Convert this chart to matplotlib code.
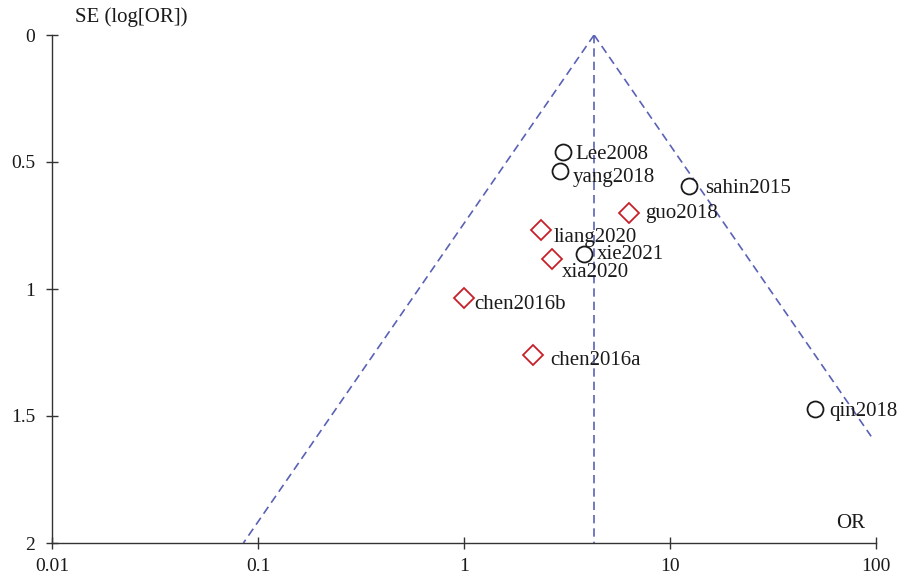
import numpy as np
import matplotlib
matplotlib.use("Agg")
import matplotlib.pyplot as plt

# ---- data ----
studies = ["Lee2008", "yang2018", "sahin2015", "guo2018", "liang2020",
           "xie2021", "xia2020", "chen2016b", "chen2016a", "qin2018"]
odds_ratio = [3.02, 2.92, 12.4, 6.32, 2.37, 3.83, 2.67, 1.00, 2.16, 50.6]
se_log_or = [0.461, 0.535, 0.594, 0.700, 0.768, 0.862, 0.882, 1.035, 1.260, 1.472]
group = ["o", "o", "o", "d", "d", "o", "d", "d", "d", "o"]
pooled_or = 4.28
funnel_se_max_left = 2.0
funnel_se_max_right = 1.58
x_ticks = [0.01, 0.1, 1, 10, 100]
x_tick_labels = ["0.01", "0.1", "1", "10", "100"]
y_ticks = [0, 0.5, 1, 1.5, 2]
y_tick_labels = ["0", "0.5", "1", "1.5", "2"]

# label offsets in pixels (layout)
label_offsets = [(12, -2), (13, -7), (16, -3), (16, -1), (12, -7),
                 (13, -1), (10, -13), (10, -7), (17, -5), (14, -3)]

plt.rcParams['font.family'] = ['Liberation Serif', 'DejaVu Serif']

fig = plt.figure(figsize=(9, 5.79), dpi=100)
ax = fig.add_axes([52/900, 1-543/579, (876-52)/900, (543-35)/579])

ax.set_xscale('log')
ax.set_xlim(0.01, 100)
ax.set_ylim(2, 0)

# funnel lines
line_col = '#5a62b6'
dash = (0, (5, 3))
lp = np.log(pooled_or)
ax.plot([pooled_or, np.exp(lp - 1.96*funnel_se_max_left)], [0, funnel_se_max_left],
        ls=dash, color=line_col, lw=1.2)
ax.plot([pooled_or, np.exp(lp + 1.96*funnel_se_max_right)], [0, funnel_se_max_right],
        ls=dash, color=line_col, lw=1.2)
ax.plot([pooled_or, pooled_or], [0, 2], ls=dash, color=line_col, lw=1.2)

for name, orv, se, g, off in zip(studies, odds_ratio, se_log_or, group, label_offsets):
    if g == "o":
        ax.plot(orv, se, marker='o', ms=11.5, mfc='white', mec='#1a1a1a', mew=1.3, ls='none', zorder=3)
    else:
        ax.plot(orv, se, marker='D', ms=10, mfc='white', mec='#c8202a', mew=1.3, ls='none', zorder=3)
    ax.annotate(name, (orv, se), xytext=(off[0]*0.72, off[1]*0.72), textcoords='offset points',
                ha='left', va='center', fontsize=15, color='#1a1a1a', zorder=4)

for s in ['top', 'right']:
    ax.spines[s].set_visible(False)
for s in ['left', 'bottom']:
    ax.spines[s].set_color('#333333')
    ax.spines[s].set_linewidth(1.0)

ax.set_xticks(x_ticks)
ax.set_xticklabels(x_tick_labels)
ax.xaxis.set_minor_locator(matplotlib.ticker.NullLocator())
ax.set_yticks(y_ticks)
ax.set_yticklabels(y_tick_labels)
ax.tick_params(axis='both', direction='inout', length=8, width=1.0, colors='#333333',
               labelsize=14, labelcolor='#1a1a1a')
ax.tick_params(axis='x', pad=7)
ax.tick_params(axis='y', pad=8)

fig.text(75/900, 1-17/579, "SE (log[OR])", fontsize=15, ha='left', va='center', color='#1a1a1a')
ax.text(0.987, 0.02, "OR", transform=ax.transAxes, fontsize=15, ha='right', va='bottom', color='#1a1a1a')

fig.savefig("out.png", dpi=100)
